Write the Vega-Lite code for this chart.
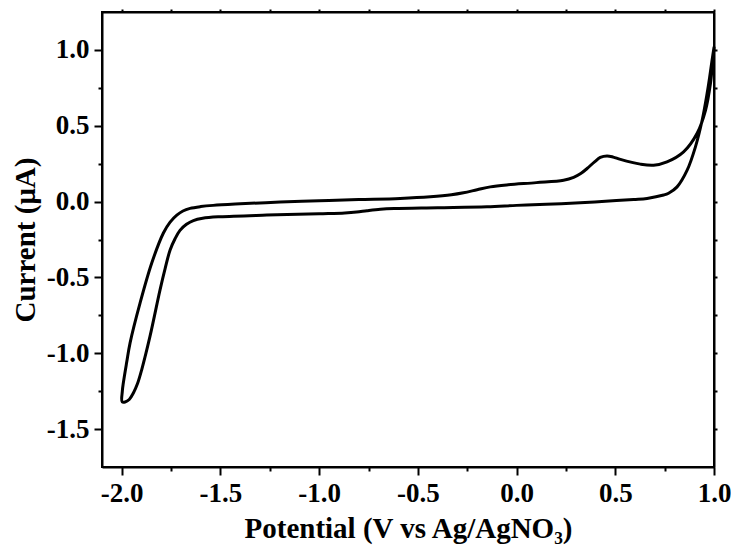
{
  "$schema": "https://vega.github.io/schema/vega-lite/v6.json",
  "width": 612,
  "height": 455,
  "autosize": {"type": "none"},
  "padding": {"left": 102, "top": 12, "right": 17, "bottom": 88},
  "background": "white",
  "config": {
    "view": {"stroke": "black", "strokeWidth": 2},
    "font": "Liberation Serif",
    "axis": {
      "domainColor": "black",
      "domainWidth": 2,
      "tickColor": "black",
      "tickWidth": 2,
      "grid": false,
      "labelFont": "Liberation Serif",
      "labelFontWeight": "bold",
      "labelFontSize": 27,
      "labelColor": "black",
      "titleFont": "Liberation Serif",
      "titleFontWeight": "bold",
      "titleFontSize": 29,
      "titleColor": "black"
    }
  },
  "data": {
    "values": [
      {"k": 1, "E": 1.0, "I": 1.016},
      {"k": 2, "E": 0.99, "I": 0.931},
      {"k": 3, "E": 0.978, "I": 0.82},
      {"k": 4, "E": 0.965, "I": 0.712},
      {"k": 5, "E": 0.94, "I": 0.536},
      {"k": 6, "E": 0.906, "I": 0.361},
      {"k": 7, "E": 0.864, "I": 0.207},
      {"k": 8, "E": 0.813, "I": 0.097},
      {"k": 9, "E": 0.77, "I": 0.055},
      {"k": 10, "E": 0.745, "I": 0.043},
      {"k": 11, "E": 0.661, "I": 0.021},
      {"k": 12, "E": 0.593, "I": 0.014},
      {"k": 13, "E": 0.45, "I": 0.002},
      {"k": 14, "E": 0.322, "I": -0.008},
      {"k": 15, "E": 0.15, "I": -0.018},
      {"k": 16, "E": 0.0, "I": -0.025},
      {"k": 17, "E": -0.15, "I": -0.034},
      {"k": 18, "E": -0.4, "I": -0.04},
      {"k": 19, "E": -0.62, "I": -0.045},
      {"k": 20, "E": -0.69, "I": -0.05},
      {"k": 21, "E": -0.758, "I": -0.06},
      {"k": 22, "E": -0.81, "I": -0.069},
      {"k": 23, "E": -0.87, "I": -0.075},
      {"k": 24, "E": -1.0, "I": -0.08},
      {"k": 25, "E": -1.265, "I": -0.089},
      {"k": 26, "E": -1.502, "I": -0.1},
      {"k": 27, "E": -1.59, "I": -0.11},
      {"k": 28, "E": -1.637, "I": -0.125},
      {"k": 29, "E": -1.672, "I": -0.15},
      {"k": 30, "E": -1.705, "I": -0.19},
      {"k": 31, "E": -1.73, "I": -0.245},
      {"k": 32, "E": -1.755, "I": -0.319},
      {"k": 33, "E": -1.78, "I": -0.44},
      {"k": 34, "E": -1.806, "I": -0.582},
      {"k": 35, "E": -1.857, "I": -0.889},
      {"k": 36, "E": -1.899, "I": -1.109},
      {"k": 37, "E": -1.92, "I": -1.2},
      {"k": 38, "E": -1.941, "I": -1.262},
      {"k": 39, "E": -1.962, "I": -1.305},
      {"k": 40, "E": -1.983, "I": -1.321},
      {"k": 41, "E": -1.998, "I": -1.32},
      {"k": 42, "E": -1.997, "I": -1.25},
      {"k": 43, "E": -1.992, "I": -1.196},
      {"k": 44, "E": -1.975, "I": -1.06},
      {"k": 45, "E": -1.958, "I": -0.933},
      {"k": 46, "E": -1.907, "I": -0.668},
      {"k": 47, "E": -1.848, "I": -0.405},
      {"k": 48, "E": -1.789, "I": -0.207},
      {"k": 49, "E": -1.755, "I": -0.135},
      {"k": 50, "E": -1.721, "I": -0.089},
      {"k": 51, "E": -1.69, "I": -0.062},
      {"k": 52, "E": -1.654, "I": -0.045},
      {"k": 53, "E": -1.6, "I": -0.033},
      {"k": 54, "E": -1.537, "I": -0.025},
      {"k": 55, "E": -1.4, "I": -0.015},
      {"k": 56, "E": -1.198, "I": -0.003},
      {"k": 57, "E": -1.0, "I": 0.005},
      {"k": 58, "E": -0.8, "I": 0.013},
      {"k": 59, "E": -0.59, "I": 0.021},
      {"k": 60, "E": -0.437, "I": 0.032},
      {"k": 61, "E": -0.33, "I": 0.045},
      {"k": 62, "E": -0.269, "I": 0.058},
      {"k": 63, "E": -0.2, "I": 0.078},
      {"k": 64, "E": -0.133, "I": 0.097},
      {"k": 65, "E": -0.05, "I": 0.11},
      {"k": 66, "E": 0.1, "I": 0.125},
      {"k": 67, "E": 0.238, "I": 0.141},
      {"k": 68, "E": 0.289, "I": 0.16},
      {"k": 69, "E": 0.325, "I": 0.185},
      {"k": 70, "E": 0.357, "I": 0.218},
      {"k": 71, "E": 0.395, "I": 0.262},
      {"k": 72, "E": 0.424, "I": 0.291},
      {"k": 73, "E": 0.458, "I": 0.301},
      {"k": 74, "E": 0.49, "I": 0.293},
      {"k": 75, "E": 0.526, "I": 0.278},
      {"k": 76, "E": 0.627, "I": 0.247},
      {"k": 77, "E": 0.694, "I": 0.24},
      {"k": 78, "E": 0.762, "I": 0.262},
      {"k": 79, "E": 0.846, "I": 0.328},
      {"k": 80, "E": 0.914, "I": 0.449},
      {"k": 81, "E": 0.957, "I": 0.602},
      {"k": 82, "E": 0.982, "I": 0.778},
      {"k": 83, "E": 0.993, "I": 0.92},
      {"k": 84, "E": 1.0, "I": 1.016}
    ]
  },
  "layer": [
    {
      "mark": {"type": "line", "color": "black", "strokeWidth": 3, "interpolate": "catmull-rom", "strokeJoin": "round", "strokeCap": "round"},
      "encoding": {
        "x": {
          "field": "E", "type": "quantitative",
          "scale": {"domain": [-2.1, 1.0], "nice": false, "zero": false},
          "axis": {
            "orient": "bottom",
            "title": "Potential (V vs Ag/AgNO₃)",
            "values": [-2.0, -1.75, -1.5, -1.25, -1.0, -0.75, -0.5, -0.25, 0.0, 0.25, 0.5, 0.75, 1.0],
            "tickSize": {"condition": {"test": "abs(datum.value*2-round(datum.value*2))<0.01", "value": 8}, "value": 4},
            "labelExpr": "abs(datum.value*2-round(datum.value*2))<0.01 ? replace(format(datum.value, '.1f'), '\u2212', '-') : ''",
            "labelPadding": 5,
            "labelFlush": false,
            "labelOverlap": false,
            "titlePadding": 8
          }
        },
        "y": {
          "field": "I", "type": "quantitative",
          "scale": {"domain": [-1.75, 1.25], "nice": false, "zero": false},
          "axis": {
            "orient": "left",
            "title": "Current (μA)",
            "values": [-1.5, -1.25, -1.0, -0.75, -0.5, -0.25, 0.0, 0.25, 0.5, 0.75, 1.0],
            "tickSize": {"condition": {"test": "abs(datum.value*2-round(datum.value*2))<0.01", "value": 8}, "value": 4},
            "labelExpr": "abs(datum.value*2-round(datum.value*2))<0.01 ? replace(format(datum.value, '.1f'), '\u2212', '-') : ''",
            "labelPadding": 5,
            "labelFlush": false,
            "labelOverlap": false,
            "titlePadding": 6
          }
        },
        "order": {"field": "k", "type": "quantitative"}
      }
    },
    {
      "mark": {"type": "line", "opacity": 0},
      "encoding": {
        "x": {
          "field": "E", "type": "quantitative",
          "axis": {
            "orient": "top", "title": null, "labels": false, "tickSize": 3,
            "values": [-2.0, -1.75, -1.5, -1.25, -1.0, -0.75, -0.5, -0.25, 0.0, 0.25, 0.5, 0.75, 1.0]
          }
        },
        "y": {
          "field": "I", "type": "quantitative",
          "axis": {
            "orient": "right", "title": null, "labels": false, "tickSize": 3,
            "values": [-1.5, -1.25, -1.0, -0.75, -0.5, -0.25, 0.0, 0.25, 0.5, 0.75, 1.0]
          }
        },
        "order": {"field": "k", "type": "quantitative"}
      }
    }
  ],
  "resolve": {"axis": {"x": "independent", "y": "independent"}}
}
